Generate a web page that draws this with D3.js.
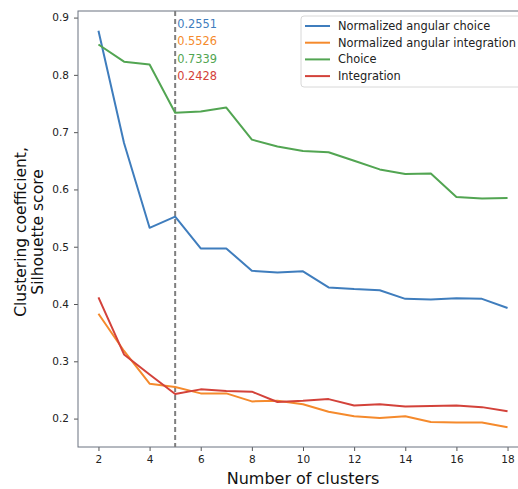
<!DOCTYPE html>
<html>
<head>
<meta charset="utf-8">
<script src="https://cdn.jsdelivr.net/npm/d3@7"></script>
<style>
  html, body { margin: 0; padding: 0; background: #fff; overflow: hidden; }
  svg { display: block; font-family: "DejaVu Sans", sans-serif; }
</style>
</head>
<body>
<svg id="chart" width="518" height="489"></svg>
<script>
// Number of clusters on the x axis
const clusters = [2, 3, 4, 5, 6, 7, 8, 9, 10, 11, 12, 13, 14, 15, 16, 17, 18];

// Scores per clustering run
const normAngularChoice = [0.877, 0.681, 0.533, 0.5526, 0.497, 0.497, 0.458, 0.455, 0.457, 0.429, 0.426, 0.424, 0.409, 0.408, 0.410, 0.409, 0.393];
const normAngularIntegration = [0.383, 0.318, 0.261, 0.2551, 0.244, 0.244, 0.230, 0.231, 0.225, 0.212, 0.204, 0.201, 0.204, 0.194, 0.193, 0.193, 0.185];
const choice = [0.853, 0.823, 0.818, 0.7339, 0.736, 0.743, 0.687, 0.675, 0.667, 0.665, 0.650, 0.635, 0.627, 0.628, 0.587, 0.584, 0.585];
const integration = [0.4115, 0.312, 0.277, 0.2428, 0.251, 0.248, 0.247, 0.229, 0.231, 0.234, 0.223, 0.225, 0.221, 0.222, 0.223, 0.220, 0.213];

const seriesNames = ["Normalized angular choice", "Normalized angular integration", "Choice", "Integration"];
const seriesColors = ["#3f7dbd", "#f58a2c", "#52a552", "#d3423a"];

// Highlighted cluster count and the score readouts printed beside it
const markedCluster = 5;
const markedLabels = ["0.2551", "0.5526", "0.7339", "0.2428"];

const xTicks = [2, 4, 6, 8, 10, 12, 14, 16, 18];
const yTicks = [0.2, 0.3, 0.4, 0.5, 0.6, 0.7, 0.8, 0.9];

const svg = d3.select("#chart");
const plotLeft = 78, plotRight = 528, plotTop = 11, plotBottom = 447;

const x = d3.scaleLinear().domain([1.2, 18.8]).range([plotLeft, plotRight]);
const y = d3.scaleLinear().domain([0.1504, 0.9115]).range([plotBottom, plotTop]);

const series = [normAngularChoice, normAngularIntegration, choice, integration];

// Axes
const xAxis = svg.append("g")
  .attr("transform", `translate(0,${plotBottom})`)
  .call(d3.axisBottom(x).tickValues(xTicks).tickSize(4).tickPadding(5).tickFormat(d3.format("d")));
const yAxis = svg.append("g")
  .attr("transform", `translate(${plotLeft},0)`)
  .call(d3.axisLeft(y).tickValues(yTicks).tickSize(4).tickPadding(5).tickFormat(d3.format(".1f")));

[xAxis, yAxis].forEach(g => {
  g.select(".domain").remove();
  g.selectAll(".tick line").attr("stroke", "#555").attr("stroke-width", 1);
  g.selectAll(".tick text").attr("fill", "#222").attr("font-size", 10.5)
    .attr("font-family", "DejaVu Sans, sans-serif");
});

// Frame
svg.append("rect")
  .attr("x", plotLeft).attr("y", plotTop)
  .attr("width", plotRight - plotLeft).attr("height", plotBottom - plotTop)
  .attr("fill", "none").attr("stroke", "#6b7280").attr("stroke-width", 1);

// Marked cluster count
svg.append("line")
  .attr("x1", x(markedCluster)).attr("x2", x(markedCluster))
  .attr("y1", plotTop).attr("y2", plotBottom)
  .attr("stroke", "#7f7f7f").attr("stroke-width", 2)
  .attr("stroke-dasharray", "5,3");

// Series lines
const line = d3.line().x((d, i) => x(clusters[i])).y(d => y(d));
series.forEach((vals, i) => {
  svg.append("path")
    .datum(vals)
    .attr("d", line)
    .attr("fill", "none")
    .attr("stroke", seriesColors[i])
    .attr("stroke-width", 2)
    .attr("stroke-linejoin", "round");
});

// Score readouts
markedLabels.forEach((t, i) => {
  svg.append("text")
    .attr("x", x(markedCluster) + 2)
    .attr("y", 24 + i * 17.3)
    .attr("dy", "0.36em")
    .attr("font-size", 11.4)
    .attr("fill", seriesColors[i])
    .text(t);
});

// Legend
const lg = svg.append("g").attr("transform", "translate(301,16)");
lg.append("rect")
  .attr("x", 0).attr("y", 0).attr("width", 240).attr("height", 71)
  .attr("rx", 3)
  .attr("fill", "#fff").attr("fill-opacity", 0.85)
  .attr("stroke", "#d8d8d8").attr("stroke-width", 1);
seriesNames.forEach((name, i) => {
  const yy = 10 + i * 16.7;
  lg.append("line")
    .attr("x1", 4).attr("x2", 29).attr("y1", yy).attr("y2", yy)
    .attr("stroke", seriesColors[i]).attr("stroke-width", 2);
  lg.append("text")
    .attr("x", 37).attr("y", yy).attr("dy", "0.35em")
    .attr("font-size", 11.4).attr("fill", "#222")
    .text(name);
});

// Axis titles
svg.append("text")
  .attr("x", (plotLeft + plotRight) / 2).attr("y", 478).attr("dy", "0.35em")
  .attr("text-anchor", "middle").attr("font-size", 16).attr("fill", "#111")
  .text("Number of clusters");

const yTitle = svg.append("text")
  .attr("transform", `translate(21,232) rotate(-90)`)
  .attr("text-anchor", "middle").attr("font-size", 15.5).attr("fill", "#111");
yTitle.append("tspan").attr("x", 0).attr("dy", "0.35em").text("Clustering coefficient,");
yTitle.append("tspan").attr("x", 0).attr("dy", 17).text("Silhouette score");
</script>
</body>
</html>
